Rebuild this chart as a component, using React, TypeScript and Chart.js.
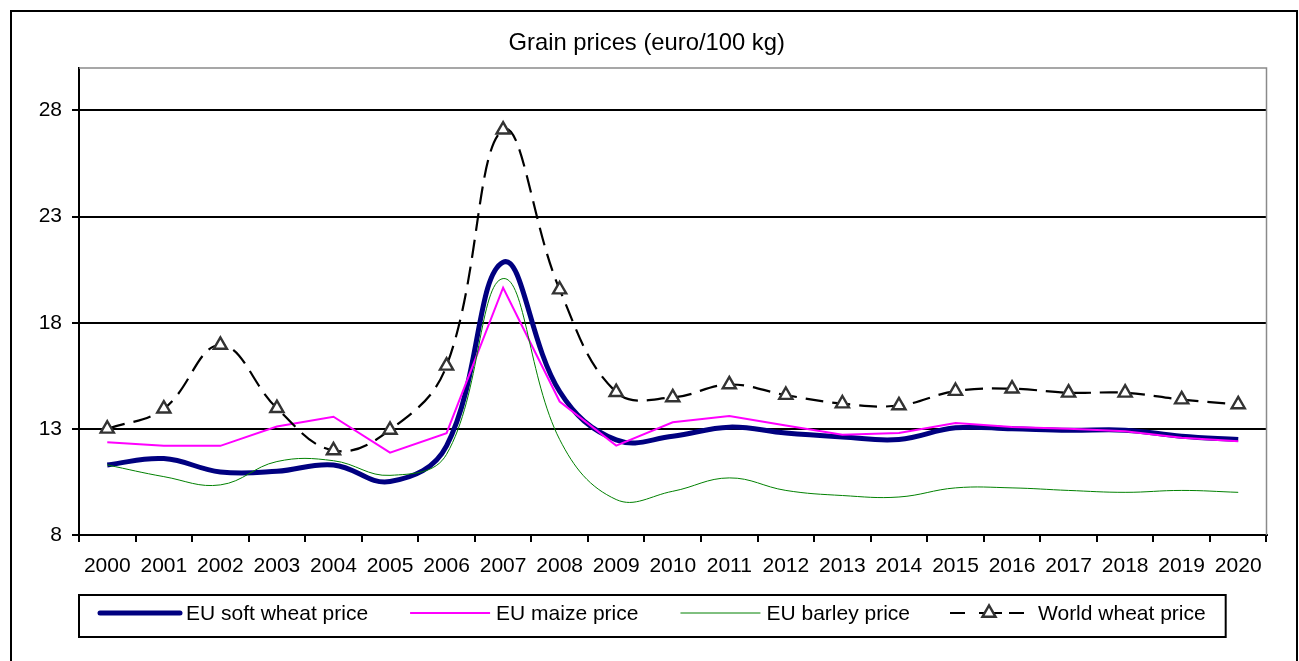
import React, { useEffect, useRef } from 'react';
import { Chart, registerables } from 'chart.js';

Chart.register(...registerables);

const years = ['2000', '2001', '2002', '2003', '2004', '2005', '2006', '2007', '2008', '2009', '2010',
  '2011', '2012', '2013', '2014', '2015', '2016', '2017', '2018', '2019', '2020'];

const softWheat = [11.3, 11.6, 10.97, 11.0, 11.3, 10.52, 12.2, 20.85, 14.76, 12.48, 12.65,
  13.08, 12.8, 12.62, 12.5, 13.05, 13.0, 12.93, 12.94, 12.65, 12.5];
const maize = [12.37, 12.21, 12.2, 13.11, 13.57, 11.88, 12.8, 19.65, 14.29, 12.21, 13.31,
  13.6, 13.16, 12.72, 12.81, 13.28, 13.09, 13.0, 12.89, 12.58, 12.42];
const barley = [11.3, 10.75, 10.36, 11.46, 11.5, 10.81, 11.8, 20.08, 12.5, 9.67, 10.06,
  10.69, 10.1, 9.86, 9.79, 10.22, 10.22, 10.1, 10.01, 10.1, 10.01];
const worldWheat = [13.0, 13.95, 16.95, 13.97, 11.98, 12.95, 15.97, 27.09, 19.56, 14.73, 14.48,
  15.09, 14.59, 14.19, 14.1, 14.78, 14.89, 14.7, 14.7, 14.38, 14.15];

const yTicks = [8, 13, 18, 23, 28];
const yMin = 8;
const yMax = 30;

const chartTitle = 'Grain prices (euro/100 kg)';
const seriesNames = ['EU soft wheat price', 'EU maize price', 'EU barley price', 'World wheat price'];

const FONT = "'Liberation Sans', Arial, Helvetica, sans-serif";

function drawTriangle(ctx: CanvasRenderingContext2D, cx: number, cy: number, r: number) {
  ctx.beginPath();
  ctx.moveTo(cx, cy - r);
  ctx.lineTo(cx + r * 0.866, cy + r * 0.5);
  ctx.lineTo(cx - r * 0.866, cy + r * 0.5);
  ctx.closePath();
}

const decorPlugin = {
  id: 'decor',
  beforeDatasetsDraw(chart: any) {
    const { ctx, chartArea: ca } = chart;
    ctx.save();
    ctx.strokeStyle = '#8a8a8a';
    ctx.lineWidth = 1.5;
    ctx.beginPath();
    ctx.moveTo(ca.left, ca.top);
    ctx.lineTo(ca.right, ca.top);
    ctx.lineTo(ca.right, ca.bottom);
    ctx.stroke();
    ctx.restore();
  },
  afterDraw(chart: any) {
    const { ctx } = chart;
    ctx.save();
    // outer frame
    ctx.strokeStyle = '#000';
    ctx.lineWidth = 2;
    ctx.beginPath();
    ctx.moveTo(11, 661);
    ctx.lineTo(11, 11);
    ctx.lineTo(1297, 11);
    ctx.lineTo(1297, 661);
    ctx.stroke();

    // title
    ctx.fillStyle = '#000';
    ctx.font = `23.8px ${FONT}`;
    ctx.textAlign = 'center';
    ctx.textBaseline = 'alphabetic';
    ctx.fillText(chartTitle, 646.7, 49.5);

    // legend
    ctx.font = `21px ${FONT}`;
    ctx.textAlign = 'left';
    const yLine = 613;
    const yText = 620;
    let x = 100;
    chart.data.datasets.forEach((ds: any) => {
      const hasMarker = ds.pointStyle === 'triangle';
      ctx.save();
      ctx.strokeStyle = ds.borderColor;
      ctx.lineWidth = ds.borderWidth;
      ctx.lineCap = ds.borderWidth >= 4 ? 'round' : 'butt';
      ctx.beginPath();
      if (hasMarker) {
        // dash - marker - dash, as in the reference legend sample
        ctx.moveTo(x - 2, yLine);
        ctx.lineTo(x + 13, yLine);
        ctx.moveTo(x + 27, yLine);
        ctx.lineTo(x + 50, yLine);
        ctx.moveTo(x + 57, yLine);
        ctx.lineTo(x + 72, yLine);
      } else {
        ctx.moveTo(x, yLine);
        ctx.lineTo(x + 80, yLine);
      }
      ctx.stroke();
      ctx.restore();
      if (hasMarker) {
        ctx.save();
        ctx.fillStyle = ds.pointBackgroundColor;
        ctx.strokeStyle = ds.pointBorderColor;
        ctx.lineWidth = ds.pointBorderWidth;
        drawTriangle(ctx, x + 37, yLine, ds.pointRadius);
        ctx.fill();
        ctx.stroke();
        ctx.restore();
      }
      ctx.fillStyle = '#000';
      ctx.fillText(ds.label, x + 86, yText);
      x += 86 + ctx.measureText(ds.label).width + 42;
    });
    const right = x - 42 + 20;
    ctx.strokeStyle = '#000';
    ctx.lineWidth = 2;
    ctx.strokeRect(79, 595, right - 79, 42);
    ctx.restore();
  },
};

export default function App() {
  const ref = useRef<HTMLCanvasElement>(null);

  useEffect(() => {
    if (!ref.current) return;
    const tickFont = { family: FONT, size: 21 };
    const chart = new Chart(ref.current, {
      type: 'line',
      data: {
        labels: years,
        datasets: [
          {
            label: seriesNames[0],
            data: softWheat,
            borderColor: '#000080',
            backgroundColor: '#000080',
            borderWidth: 5,
            tension: 0.4,
            pointRadius: 0,
            order: 4,
          },
          {
            label: seriesNames[1],
            data: maize,
            borderColor: '#FF00FF',
            backgroundColor: '#FF00FF',
            borderWidth: 2,
            tension: 0,
            pointRadius: 0,
            order: 3,
          },
          {
            label: seriesNames[2],
            data: barley,
            borderColor: '#008000',
            backgroundColor: '#008000',
            borderWidth: 1,
            tension: 0.4,
            pointRadius: 0,
            order: 2,
          },
          {
            label: seriesNames[3],
            data: worldWheat,
            borderColor: '#000000',
            backgroundColor: '#ffffff',
            borderWidth: 2.2,
            borderDash: [18, 9],
            tension: 0.4,
            pointStyle: 'triangle',
            pointRadius: 7.6,
            pointBorderColor: '#333333',
            pointBackgroundColor: '#ffffff',
            pointBorderWidth: 2.4,
            order: 1,
          },
        ] as any,
      },
      options: {
        responsive: false,
        animation: false,
        devicePixelRatio: 1,
        events: [],
        layout: { padding: { left: 10, right: 32.5, top: 68, bottom: 86 } },
        plugins: {
          legend: { display: false },
          tooltip: { enabled: false },
          title: { display: false },
        },
        scales: {
          x: {
            type: 'category',
            offset: true,
            grid: {
              offset: true,
              drawOnChartArea: false,
              drawTicks: true,
              tickLength: 7,
              color: '#000',
              lineWidth: 2,
            },
            border: { color: '#000', width: 2 },
            ticks: { color: '#000', font: tickFont, padding: 12, maxRotation: 0, autoSkip: false },
            afterFit: (s: any) => { s.height = 40; },
          },
          y: {
            min: yMin,
            max: yMax,
            afterBuildTicks: (s: any) => { s.ticks = yTicks.map((v) => ({ value: v })); },
            grid: { color: '#000', lineWidth: 2, tickLength: 7 },
            border: { color: '#000', width: 2 },
            ticks: { color: '#000', font: tickFont, padding: 10 },
            afterFit: (s: any) => { s.width = 69; },
          },
        },
      } as any,
      plugins: [decorPlugin],
    });
    return () => chart.destroy();
  }, []);

  return (
    <div style={{ position: 'absolute', left: 0, top: 0, width: 1299, height: 661, background: '#fff' }}>
      <canvas ref={ref} width={1299} height={661} style={{ display: 'block', width: 1299, height: 661 }} />
    </div>
  );
}
